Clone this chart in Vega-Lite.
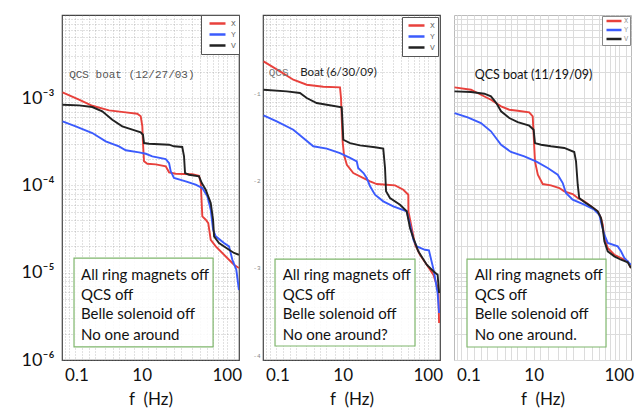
{
 "$schema": "https://vega.github.io/schema/vega-lite/v6.json",
 "background": "white",
 "padding": {"left": 20, "top": 9, "right": 0, "bottom": 0},
 "spacing": 9,
 "config": {"font": "Lato", "view": {"stroke": "#444", "strokeWidth": 1.2}},
 "resolve": {"scale": {"color": "independent"}, "legend": {"color": "independent"}},
 "datasets": {
  "curves": [
   {"panel":"A","axis":"X","f":0.02,"v":0.001162},{"panel":"A","axis":"X","f":0.817,"v":0.000956},{"panel":"A","axis":"X","f":1.757,"v":0.000816},{"panel":"A","axis":"X","f":3.5,"v":0.000723},{"panel":"A","axis":"X","f":6.16,"v":0.000686},{"panel":"A","axis":"X","f":8.78,"v":0.000661},{"panel":"A","axis":"X","f":9.73,"v":0.000617},{"panel":"A","axis":"X","f":10.2,"v":0.000478},{"panel":"A","axis":"X","f":10.4,"v":0.000305},{"panel":"A","axis":"X","f":10.72,"v":0.0001884},{"panel":"A","axis":"X","f":11.8,"v":0.0001768},{"panel":"A","axis":"X","f":15.0,"v":0.000174},{"panel":"A","axis":"X","f":19.8,"v":0.0001651},{"panel":"A","axis":"X","f":21.7,"v":0.000141},{"panel":"A","axis":"X","f":26.0,"v":0.0001359},{"panel":"A","axis":"X","f":40.5,"v":0.0001338},{"panel":"A","axis":"X","f":48.4,"v":0.0001289},{"panel":"A","axis":"X","f":50.7,"v":0.0001063},{"panel":"A","axis":"X","f":51.5,"v":0.0000749},{"panel":"A","axis":"X","f":52.8,"v":0.0000442},{"panel":"A","axis":"X","f":57.7,"v":0.0000404},{"panel":"A","axis":"X","f":61.7,"v":0.000037},{"panel":"A","axis":"X","f":65.8,"v":0.0000238},{"panel":"A","axis":"X","f":75.0,"v":0.00002},{"panel":"A","axis":"X","f":89.0,"v":0.0000168},{"panel":"A","axis":"X","f":105.9,"v":0.00001407},{"panel":"A","axis":"X","f":120.7,"v":0.00001233},{"panel":"A","axis":"X","f":137,"v":0.00001131},
   {"panel":"A","axis":"Y","f":0.02,"v":0.000541},{"panel":"A","axis":"Y","f":0.63,"v":0.000474},{"panel":"A","axis":"Y","f":1.757,"v":0.000397},{"panel":"A","axis":"Y","f":3.09,"v":0.000319},{"panel":"A","axis":"Y","f":4.94,"v":0.00028},{"panel":"A","axis":"Y","f":6.16,"v":0.000252},{"panel":"A","axis":"Y","f":9.25,"v":0.000239},{"panel":"A","axis":"Y","f":11.3,"v":0.00023},{"panel":"A","axis":"Y","f":13.6,"v":0.000215},{"panel":"A","axis":"Y","f":19.8,"v":0.0002},{"panel":"A","axis":"Y","f":21.7,"v":0.00018},{"panel":"A","axis":"Y","f":22.7,"v":0.0001448},{"panel":"A","axis":"Y","f":24.8,"v":0.0001213},{"panel":"A","axis":"Y","f":34.0,"v":0.0001112},{"panel":"A","axis":"Y","f":44.3,"v":0.0001017},{"panel":"A","axis":"Y","f":52.8,"v":0.0000932},{"panel":"A","axis":"Y","f":60.2,"v":0.0000749},{"panel":"A","axis":"Y","f":65.8,"v":0.0000526},{"panel":"A","axis":"Y","f":70.0,"v":0.000031},{"panel":"A","axis":"Y","f":75.0,"v":0.0000261},{"panel":"A","axis":"Y","f":93.0,"v":0.0000219},{"panel":"A","axis":"Y","f":105.9,"v":0.00002},{"panel":"A","axis":"Y","f":115.5,"v":0.00001407},{"panel":"A","axis":"Y","f":128.0,"v":0.0000108},{"panel":"A","axis":"Y","f":137,"v":0.00000633},
   {"panel":"A","axis":"V","f":0.02,"v":0.000838},{"panel":"A","axis":"V","f":0.817,"v":0.000825},{"panel":"A","axis":"V","f":1.757,"v":0.000789},{"panel":"A","axis":"V","f":2.7,"v":0.000704},{"panel":"A","axis":"V","f":3.93,"v":0.000564},{"panel":"A","axis":"V","f":5.51,"v":0.000474},{"panel":"A","axis":"V","f":7.56,"v":0.000434},{"panel":"A","axis":"V","f":9.73,"v":0.000405},{"panel":"A","axis":"V","f":10.4,"v":0.00038},{"panel":"A","axis":"V","f":10.72,"v":0.000305},{"panel":"A","axis":"V","f":12.4,"v":0.0003},{"panel":"A","axis":"V","f":21.7,"v":0.000292},{"panel":"A","axis":"V","f":24.8,"v":0.00028},{"panel":"A","axis":"V","f":31.0,"v":0.000275},{"panel":"A","axis":"V","f":32.5,"v":0.000215},{"panel":"A","axis":"V","f":33.4,"v":0.0001384},{"panel":"A","axis":"V","f":37.1,"v":0.0001323},{"panel":"A","axis":"V","f":48.4,"v":0.0001268},{"panel":"A","axis":"V","f":52.0,"v":0.0001063},{"panel":"A","axis":"V","f":57.7,"v":0.0000891},{"panel":"A","axis":"V","f":65.8,"v":0.0000627},{"panel":"A","axis":"V","f":70.0,"v":0.0000404},{"panel":"A","axis":"V","f":71.8,"v":0.0000261},{"panel":"A","axis":"V","f":81.6,"v":0.0000219},{"panel":"A","axis":"V","f":105.9,"v":0.0000183},{"panel":"A","axis":"V","f":120.7,"v":0.0000168},{"panel":"A","axis":"V","f":137,"v":0.00001605},
   {"panel":"B","axis":"X","f":0.02,"v":0.00263},{"panel":"B","axis":"X","f":0.817,"v":0.00202},{"panel":"B","axis":"X","f":1.757,"v":0.00162},{"panel":"B","axis":"X","f":3.09,"v":0.00142},{"panel":"B","axis":"X","f":5.51,"v":0.001347},{"panel":"B","axis":"X","f":9.25,"v":0.001326},{"panel":"B","axis":"X","f":9.53,"v":0.001},{"panel":"B","axis":"X","f":9.73,"v":0.00059},{"panel":"B","axis":"X","f":10.0,"v":0.000319},{"panel":"B","axis":"X","f":10.4,"v":0.000224},{"panel":"B","axis":"X","f":11.3,"v":0.0001722},{"panel":"B","axis":"X","f":13.6,"v":0.0001384},{"panel":"B","axis":"X","f":18.1,"v":0.0001213},{"panel":"B","axis":"X","f":21.7,"v":0.0001112},{"panel":"B","axis":"X","f":26.0,"v":0.0001035},{"panel":"B","axis":"X","f":34.0,"v":0.0001017},{"panel":"B","axis":"X","f":42.5,"v":0.0001},{"panel":"B","axis":"X","f":52.8,"v":0.0000891},{"panel":"B","axis":"X","f":60.2,"v":0.0000781},{"panel":"B","axis":"X","f":60.4,"v":0.0000504},{"panel":"B","axis":"X","f":65.8,"v":0.0000325},{"panel":"B","axis":"X","f":71.8,"v":0.0000209},{"panel":"B","axis":"X","f":81.6,"v":0.00001605},{"panel":"B","axis":"X","f":97.3,"v":0.00001233},{"panel":"B","axis":"X","f":115.5,"v":0.00000948},{"panel":"B","axis":"X","f":126.0,"v":0.00000728},{"panel":"B","axis":"X","f":131,"v":0.0000065},{"panel":"B","axis":"X","f":134,"v":0.00000265},
   {"panel":"B","axis":"Y","f":0.02,"v":0.000634},{"panel":"B","axis":"Y","f":0.63,"v":0.000541},{"panel":"B","axis":"Y","f":1.757,"v":0.000434},{"panel":"B","axis":"Y","f":2.7,"v":0.000348},{"panel":"B","axis":"Y","f":3.93,"v":0.00028},{"panel":"B","axis":"Y","f":6.16,"v":0.000263},{"panel":"B","axis":"Y","f":9.25,"v":0.000234},{"panel":"B","axis":"Y","f":12.4,"v":0.000206},{"panel":"B","axis":"Y","f":15.0,"v":0.0001884},{"panel":"B","axis":"Y","f":15.6,"v":0.0001579},{"panel":"B","axis":"Y","f":18.1,"v":0.0001384},{"panel":"B","axis":"Y","f":19.8,"v":0.0001213},{"panel":"B","axis":"Y","f":21.7,"v":0.0000975},{"panel":"B","axis":"Y","f":24.8,"v":0.0000781},{"panel":"B","axis":"Y","f":31.0,"v":0.0000656},{"panel":"B","axis":"Y","f":40.5,"v":0.0000575},{"panel":"B","axis":"Y","f":57.7,"v":0.0000504},{"panel":"B","axis":"Y","f":62.9,"v":0.0000354},{"panel":"B","axis":"Y","f":68.7,"v":0.0000238},{"panel":"B","axis":"Y","f":75.0,"v":0.00002},{"panel":"B","axis":"Y","f":93.0,"v":0.0000183},{"panel":"B","axis":"Y","f":103,"v":0.000018},{"panel":"B","axis":"Y","f":117,"v":0.0000105},{"panel":"B","axis":"Y","f":129,"v":0.00000585},{"panel":"B","axis":"Y","f":134,"v":0.00000345},
   {"panel":"B","axis":"V","f":0.02,"v":0.001245},{"panel":"B","axis":"V","f":1.25,"v":0.001193},{"panel":"B","axis":"V","f":2.36,"v":0.001141},{"panel":"B","axis":"V","f":3.09,"v":0.001},{"panel":"B","axis":"V","f":4.42,"v":0.000876},{"panel":"B","axis":"V","f":6.16,"v":0.000838},{"panel":"B","axis":"V","f":9.73,"v":0.000782},{"panel":"B","axis":"V","f":10.0,"v":0.000495},{"panel":"B","axis":"V","f":10.2,"v":0.000333},{"panel":"B","axis":"V","f":12.4,"v":0.000305},{"panel":"B","axis":"V","f":16.4,"v":0.000287},{"panel":"B","axis":"V","f":24.8,"v":0.000273},{"panel":"B","axis":"V","f":31.0,"v":0.000263},{"panel":"B","axis":"V","f":32.5,"v":0.0001579},{"panel":"B","axis":"V","f":33.4,"v":0.0000854},{"panel":"B","axis":"V","f":37.1,"v":0.0000716},{"panel":"B","axis":"V","f":48.4,"v":0.00006},{"panel":"B","axis":"V","f":57.7,"v":0.0000504},{"panel":"B","axis":"V","f":62.9,"v":0.0000325},{"panel":"B","axis":"V","f":68.7,"v":0.0000249},{"panel":"B","axis":"V","f":78.1,"v":0.00001757},{"panel":"B","axis":"V","f":97.3,"v":0.00001233},{"panel":"B","axis":"V","f":115.5,"v":0.00001037},{"panel":"B","axis":"V","f":129,"v":0.00000948},{"panel":"B","axis":"V","f":134,"v":0.00000585},
   {"panel":"C","axis":"X","f":0.02,"v":0.001326},{"panel":"C","axis":"X","f":0.817,"v":0.001245},{"panel":"C","axis":"X","f":1.49,"v":0.001091},{"panel":"C","axis":"X","f":2.36,"v":0.000956},{"panel":"C","axis":"X","f":3.5,"v":0.000803},{"panel":"C","axis":"X","f":4.67,"v":0.000735},{"panel":"C","axis":"X","f":6.16,"v":0.000715},{"panel":"C","axis":"X","f":8.78,"v":0.000686},{"panel":"C","axis":"X","f":9.73,"v":0.000617},{"panel":"C","axis":"X","f":10.0,"v":0.00038},{"panel":"C","axis":"X","f":10.4,"v":0.0001884},{"panel":"C","axis":"X","f":11.3,"v":0.0001323},{"panel":"C","axis":"X","f":13.0,"v":0.0001035},{"panel":"C","axis":"X","f":16.4,"v":0.0001},{"panel":"C","axis":"X","f":20.7,"v":0.0000932},{"panel":"C","axis":"X","f":23.7,"v":0.0000854},{"panel":"C","axis":"X","f":29.7,"v":0.0000796},{"panel":"C","axis":"X","f":34.0,"v":0.0000716},{"panel":"C","axis":"X","f":40.5,"v":0.0000656},{"panel":"C","axis":"X","f":48.4,"v":0.0000575},{"panel":"C","axis":"X","f":57.7,"v":0.0000504},{"panel":"C","axis":"X","f":62.9,"v":0.0000422},{"panel":"C","axis":"X","f":65.8,"v":0.0000354},{"panel":"C","axis":"X","f":68.7,"v":0.0000249},{"panel":"C","axis":"X","f":75.0,"v":0.00001915},{"panel":"C","axis":"X","f":89.0,"v":0.00001605},{"panel":"C","axis":"X","f":105.9,"v":0.00001472},{"panel":"C","axis":"X","f":126.0,"v":0.00001349},{"panel":"C","axis":"X","f":137,"v":0.00001131},
   {"panel":"C","axis":"Y","f":0.02,"v":0.000673},{"panel":"C","axis":"Y","f":0.63,"v":0.000601},{"panel":"C","axis":"Y","f":1.49,"v":0.000517},{"panel":"C","axis":"Y","f":2.36,"v":0.000416},{"panel":"C","axis":"Y","f":3.5,"v":0.000292},{"panel":"C","axis":"Y","f":4.94,"v":0.000241},{"panel":"C","axis":"Y","f":7.56,"v":0.000215},{"panel":"C","axis":"Y","f":10.72,"v":0.0001884},{"panel":"C","axis":"Y","f":15.0,"v":0.0001579},{"panel":"C","axis":"Y","f":19.8,"v":0.0001323},{"panel":"C","axis":"Y","f":22.7,"v":0.0001063},{"panel":"C","axis":"Y","f":24.8,"v":0.0000817},{"panel":"C","axis":"Y","f":29.7,"v":0.0000685},{"panel":"C","axis":"Y","f":40.5,"v":0.00006},{"panel":"C","axis":"Y","f":52.8,"v":0.0000526},{"panel":"C","axis":"Y","f":60.2,"v":0.0000461},{"panel":"C","axis":"Y","f":64.0,"v":0.0000354},{"panel":"C","axis":"Y","f":68.7,"v":0.0000272},{"panel":"C","axis":"Y","f":75.0,"v":0.0000219},{"panel":"C","axis":"Y","f":97.3,"v":0.00002},{"panel":"C","axis":"Y","f":105.9,"v":0.00001757},{"panel":"C","axis":"Y","f":115.5,"v":0.00001472},{"panel":"C","axis":"Y","f":137,"v":0.00001233},
   {"panel":"C","axis":"V","f":0.02,"v":0.001193},{"panel":"C","axis":"V","f":0.817,"v":0.001171},{"panel":"C","axis":"V","f":1.757,"v":0.00112},{"panel":"C","axis":"V","f":2.36,"v":0.001046},{"panel":"C","axis":"V","f":2.93,"v":0.000876},{"panel":"C","axis":"V","f":3.5,"v":0.000704},{"panel":"C","axis":"V","f":4.67,"v":0.00059},{"panel":"C","axis":"V","f":6.16,"v":0.000531},{"panel":"C","axis":"V","f":8.78,"v":0.000482},{"panel":"C","axis":"V","f":10.0,"v":0.000434},{"panel":"C","axis":"V","f":10.4,"v":0.000305},{"panel":"C","axis":"V","f":12.4,"v":0.000292},{"panel":"C","axis":"V","f":16.4,"v":0.00028},{"panel":"C","axis":"V","f":23.7,"v":0.000268},{"panel":"C","axis":"V","f":31.0,"v":0.000241},{"panel":"C","axis":"V","f":32.5,"v":0.0001884},{"panel":"C","axis":"V","f":34.0,"v":0.0001017},{"panel":"C","axis":"V","f":35.4,"v":0.0000716},{"panel":"C","axis":"V","f":40.5,"v":0.0000644},{"panel":"C","axis":"V","f":48.4,"v":0.0000575},{"panel":"C","axis":"V","f":57.7,"v":0.0000504},{"panel":"C","axis":"V","f":62.9,"v":0.0000422},{"panel":"C","axis":"V","f":65.8,"v":0.0000325},{"panel":"C","axis":"V","f":68.7,"v":0.0000229},{"panel":"C","axis":"V","f":75.0,"v":0.00001757},{"panel":"C","axis":"V","f":89.0,"v":0.00001539},{"panel":"C","axis":"V","f":105.9,"v":0.00001407},{"panel":"C","axis":"V","f":126.0,"v":0.00001314},{"panel":"C","axis":"V","f":137,"v":0.00001131}
  ],
  "boxes": [
   {"panel":"A","f":0.54,"f2":70,"v":0.0000147,"v2":0.00000141},
   {"panel":"B","f":0.54,"f2":71.7,"v":0.00001433,"v2":0.000001446},
   {"panel":"C","f":0.592,"f2":71.7,"v":0.00001433,"v2":0.000001408}
  ],
  "notes": [
   {"panel":"A","kind":"mono","f":0.3,"v":0.001834,"text":"QCS boat (12/27/03)"},
   {"panel":"B","kind":"mono","f":0.235,"v":0.001933,"text":"QCS"},
   {"panel":"B","kind":"sans","f":2.39,"v":0.001933,"text":"Boat (6/30/09)"},
   {"panel":"C","kind":"sans","f":1.05,"v":0.001849,"text":"QCS boat (11/19/09)"},
   {"panel":"A","kind":"box","f":0.94,"v":0.0000095,"text":"All ring magnets off"},
   {"panel":"A","kind":"box","f":0.94,"v":0.00000562,"text":"QCS off"},
   {"panel":"A","kind":"box","f":0.94,"v":0.00000332,"text":"Belle solenoid off"},
   {"panel":"A","kind":"box","f":0.94,"v":0.000001958,"text":"No one around"},
   {"panel":"B","kind":"box","f":0.98,"v":0.0000095,"text":"All ring magnets off"},
   {"panel":"B","kind":"box","f":0.98,"v":0.00000562,"text":"QCS off"},
   {"panel":"B","kind":"box","f":0.98,"v":0.00000332,"text":"Belle solenoid off"},
   {"panel":"B","kind":"box","f":0.98,"v":0.000001958,"text":"No one around?"},
   {"panel":"C","kind":"box","f":1.05,"v":0.0000095,"text":"All ring magnets off"},
   {"panel":"C","kind":"box","f":1.05,"v":0.00000562,"text":"QCS off"},
   {"panel":"C","kind":"box","f":1.05,"v":0.00000332,"text":"Belle solenoid off"},
   {"panel":"C","kind":"box","f":1.05,"v":0.000001958,"text":"No one around."}
  ]
 },
 "hconcat": [
  {
   "width": 177, "height": 345,
   "encoding": {
    "x": {"field": "f", "type": "quantitative",
     "scale": {"type": "symlog", "constant": 1.5, "domain": [0, 137.2], "nice": false, "zero": false},
     "axis": {"values": [0.1,0.3,0.6,1,1.5,2,3,4,5,6,8,10,12,15,20,25,30,40,50,60,70,80,90,100,120],
      "labelExpr": "datum.value==0.1?'0.1':datum.value==10?'10':datum.value==100?'100':''",
      "title": "f \u00a0(Hz)", "ticks": false, "domain": false, "labelFont": "Lato", "labelFontSize": 17, "labelColor": "#111", "labelPadding": 7, "labelFlush": 5, "labelOverlap": false,
      "titleFont": "Lato", "titleFontSize": 17, "titleFontWeight": "normal", "titleColor": "#111", "titlePadding": 8,
      "gridColor": "#888", "gridDash": [1, 2], "gridOpacity": 0.5}},
    "y": {"field": "v", "type": "quantitative",
     "scale": {"type": "log", "domain": [0.000001, 0.00893], "nice": false},
     "axis": {"values": [1e-6,2e-6,3e-6,4e-6,5e-6,6e-6,7e-6,8e-6,9e-6,1e-5,2e-5,3e-5,4e-5,5e-5,6e-5,7e-5,8e-5,9e-5,1e-4,2e-4,3e-4,4e-4,5e-4,6e-4,7e-4,8e-4,9e-4,1e-3,2e-3,3e-3,4e-3,5e-3,6e-3,7e-3,8e-3],
      "labelExpr": "datum.value==0.001?'10⁻³':datum.value==0.0001?'10⁻⁴':datum.value==0.00001?'10⁻⁵':datum.value==0.000001?'10⁻⁶':''",
      "title": null, "ticks": false, "domain": false, "labelFont": "Lato", "labelFontSize": 18, "labelColor": "#111", "labelPadding": 8, "labelOverlap": false,
      "gridColor": "#888", "gridDash": [1, 2], "gridOpacity": 0.5}}
   },
   "layer": [
    {"data": {"name": "boxes"}, "transform": [{"filter": "datum.panel=='A'"}],
     "mark": {"type": "rect", "fill": "white", "fillOpacity": 0.85, "stroke": "#7fb66c", "strokeWidth": 1.2},
     "encoding": {"x2": {"field": "f2"}, "y2": {"field": "v2"}}},
    {"data": {"name": "curves"}, "transform": [{"filter": "datum.panel=='A'"}],
     "mark": {"type": "line", "strokeWidth": 1.9, "clip": true},
     "encoding": {"color": {"field": "axis", "type": "nominal",
      "scale": {"domain": ["X", "Y", "V"], "range": ["#e8413c", "#3b5bfd", "#222222"]},
      "legend": {"orient": "top-right", "offset": 0, "title": null, "symbolType": "M-2,0H2", "symbolSize": 64, "symbolStrokeWidth": 2.5, "symbolOffset": 8, "labelFont": "Liberation Mono", "labelFontSize": 8, "labelColor": "#666", "labelOffset": 8, "labelExpr": "datum.label + '   '", "strokeColor": "#555", "fillColor": "white", "padding": 3, "rowPadding": 0}}}},
    {"data": {"name": "notes"}, "transform": [{"filter": "datum.panel=='A' && datum.kind=='mono'"}],
     "mark": {"type": "text", "align": "left", "baseline": "middle", "font": "Liberation Mono", "fontSize": 11, "color": "#555"},
     "encoding": {"text": {"field": "text"}}},
    {"data": {"name": "notes"}, "transform": [{"filter": "datum.panel=='A' && datum.kind=='box'"}],
     "mark": {"type": "text", "align": "left", "baseline": "middle", "font": "Lato", "fontSize": 15, "color": "#111"},
     "encoding": {"text": {"field": "text"}}}
   ]
  },
  {
   "width": 177, "height": 345,
   "encoding": {
    "x": {"field": "f", "type": "quantitative",
     "scale": {"type": "symlog", "constant": 1.5, "domain": [0, 137.2], "nice": false, "zero": false},
     "axis": {"values": [0.1,0.3,0.6,1,1.5,2,3,4,5,6,8,10,12,15,20,25,30,40,50,60,70,80,90,100,120],
      "labelExpr": "datum.value==0.1?'0.1':datum.value==10?'10':datum.value==100?'100':''",
      "title": "f \u00a0(Hz)", "ticks": false, "domain": false, "labelFont": "Lato", "labelFontSize": 17, "labelColor": "#111", "labelPadding": 7, "labelFlush": 5, "labelOverlap": false,
      "titleFont": "Lato", "titleFontSize": 17, "titleFontWeight": "normal", "titleColor": "#111", "titlePadding": 8,
      "gridColor": "#888", "gridDash": [1, 2], "gridOpacity": 0.5}},
    "y": {"field": "v", "type": "quantitative",
     "scale": {"type": "log", "domain": [0.000001, 0.00893], "nice": false},
     "axis": {"values": [1e-6,2e-6,3e-6,4e-6,5e-6,6e-6,7e-6,8e-6,9e-6,1e-5,2e-5,3e-5,4e-5,5e-5,6e-5,7e-5,8e-5,9e-5,1e-4,2e-4,3e-4,4e-4,5e-4,6e-4,7e-4,8e-4,9e-4,1e-3,2e-3,3e-3,4e-3,5e-3,6e-3,7e-3,8e-3],
      "labelExpr": "datum.value==0.001?'-1':datum.value==0.0001?'-2':datum.value==0.00001?'-3':datum.value==0.000001?'-4':''",
      "title": null, "ticks": false, "domain": false, "labelFont": "Liberation Mono", "labelFontSize": 6, "labelColor": "#888", "labelPadding": 3, "labelOffset": -5, "labelOverlap": false,
      "gridColor": "#888", "gridDash": [1, 2], "gridOpacity": 0.5}}
   },
   "layer": [
    {"data": {"name": "boxes"}, "transform": [{"filter": "datum.panel=='B'"}],
     "mark": {"type": "rect", "fill": "white", "fillOpacity": 0.85, "stroke": "#7fb66c", "strokeWidth": 1.2},
     "encoding": {"x2": {"field": "f2"}, "y2": {"field": "v2"}}},
    {"data": {"name": "curves"}, "transform": [{"filter": "datum.panel=='B'"}],
     "mark": {"type": "line", "strokeWidth": 1.9, "clip": true},
     "encoding": {"color": {"field": "axis", "type": "nominal",
      "scale": {"domain": ["X", "Y", "V"], "range": ["#e8413c", "#3b5bfd", "#222222"]},
      "legend": {"orient": "top-right", "offset": 2, "title": null, "symbolType": "M-2,0H2", "symbolSize": 64, "symbolStrokeWidth": 2.5, "symbolOffset": 6, "labelFont": "Liberation Mono", "labelFontSize": 8, "labelColor": "#666", "labelOffset": 8, "labelExpr": "datum.label + '  '", "strokeColor": "#555", "fillColor": "white", "padding": 3, "rowPadding": 0}}}},
    {"data": {"name": "notes"}, "transform": [{"filter": "datum.panel=='B' && datum.kind=='mono'"}],
     "mark": {"type": "text", "align": "left", "baseline": "middle", "font": "Liberation Mono", "fontSize": 11, "color": "#777"},
     "encoding": {"text": {"field": "text"}}},
    {"data": {"name": "notes"}, "transform": [{"filter": "datum.panel=='B' && datum.kind=='sans'"}],
     "mark": {"type": "text", "align": "left", "baseline": "middle", "font": "Lato", "fontSize": 11.5, "color": "#222"},
     "encoding": {"text": {"field": "text"}}},
    {"data": {"name": "notes"}, "transform": [{"filter": "datum.panel=='B' && datum.kind=='box'"}],
     "mark": {"type": "text", "align": "left", "baseline": "middle", "font": "Lato", "fontSize": 15, "color": "#111"},
     "encoding": {"text": {"field": "text"}}}
   ]
  },
  {
   "width": 177, "height": 345,
   "view": {"stroke": "#bbb", "strokeWidth": 1},
   "encoding": {
    "x": {"field": "f", "type": "quantitative",
     "scale": {"type": "symlog", "constant": 1.5, "domain": [0, 137.2], "nice": false, "zero": false},
     "axis": {"values": [0.1,0.3,0.6,1,1.5,2,3,4,5,6,8,10,12,15,20,25,30,40,50,60,70,80,90,100,120],
      "labelExpr": "datum.value==0.1?'0.1':datum.value==10?'10':datum.value==100?'100':''",
      "title": "f \u00a0(Hz)", "ticks": false, "domain": false, "labelFont": "Lato", "labelFontSize": 17, "labelColor": "#111", "labelPadding": 7, "labelFlush": 5, "labelOverlap": false,
      "titleFont": "Lato", "titleFontSize": 17, "titleFontWeight": "normal", "titleColor": "#111", "titlePadding": 8,
      "gridColor": "#dcdcdc", "gridOpacity": 1}},
    "y": {"field": "v", "type": "quantitative",
     "scale": {"type": "log", "domain": [0.000001, 0.00893], "nice": false},
     "axis": {"values": [1e-6,2e-6,3e-6,4e-6,5e-6,6e-6,7e-6,8e-6,9e-6,1e-5,2e-5,3e-5,4e-5,5e-5,6e-5,7e-5,8e-5,9e-5,1e-4,2e-4,3e-4,4e-4,5e-4,6e-4,7e-4,8e-4,9e-4,1e-3,2e-3,3e-3,4e-3,5e-3,6e-3,7e-3,8e-3],
      "labels": false, "title": null, "ticks": false, "domain": false,
      "gridColor": "#dcdcdc", "gridOpacity": 1}}
   },
   "layer": [
    {"data": {"name": "boxes"}, "transform": [{"filter": "datum.panel=='C'"}],
     "mark": {"type": "rect", "fill": "white", "fillOpacity": 1, "stroke": "#7fb66c", "strokeWidth": 1.2},
     "encoding": {"x2": {"field": "f2"}, "y2": {"field": "v2"}}},
    {"data": {"name": "curves"}, "transform": [{"filter": "datum.panel=='C'"}],
     "mark": {"type": "line", "strokeWidth": 1.9, "clip": true},
     "encoding": {"color": {"field": "axis", "type": "nominal",
      "scale": {"domain": ["X", "Y", "V"], "range": ["#e8413c", "#3b5bfd", "#222222"]},
      "legend": {"orient": "top-right", "offset": 1, "title": null, "symbolType": "M-3,0H3", "symbolSize": 25, "symbolStrokeWidth": 2.5, "symbolOffset": 7, "labelFont": "Liberation Mono", "labelFontSize": 7, "labelColor": "#999", "labelOffset": 6, "labelExpr": "datum.label + '  '", "strokeColor": "#888", "fillColor": "white", "padding": 1, "rowPadding": -2}}}},
    {"data": {"name": "notes"}, "transform": [{"filter": "datum.panel=='C' && datum.kind=='sans'"}],
     "mark": {"type": "text", "align": "left", "baseline": "middle", "font": "Lato", "fontSize": 12.5, "color": "#111"},
     "encoding": {"text": {"field": "text"}}},
    {"data": {"name": "notes"}, "transform": [{"filter": "datum.panel=='C' && datum.kind=='box'"}],
     "mark": {"type": "text", "align": "left", "baseline": "middle", "font": "Lato", "fontSize": 15, "color": "#111"},
     "encoding": {"text": {"field": "text"}}}
   ]
  }
 ]
}
